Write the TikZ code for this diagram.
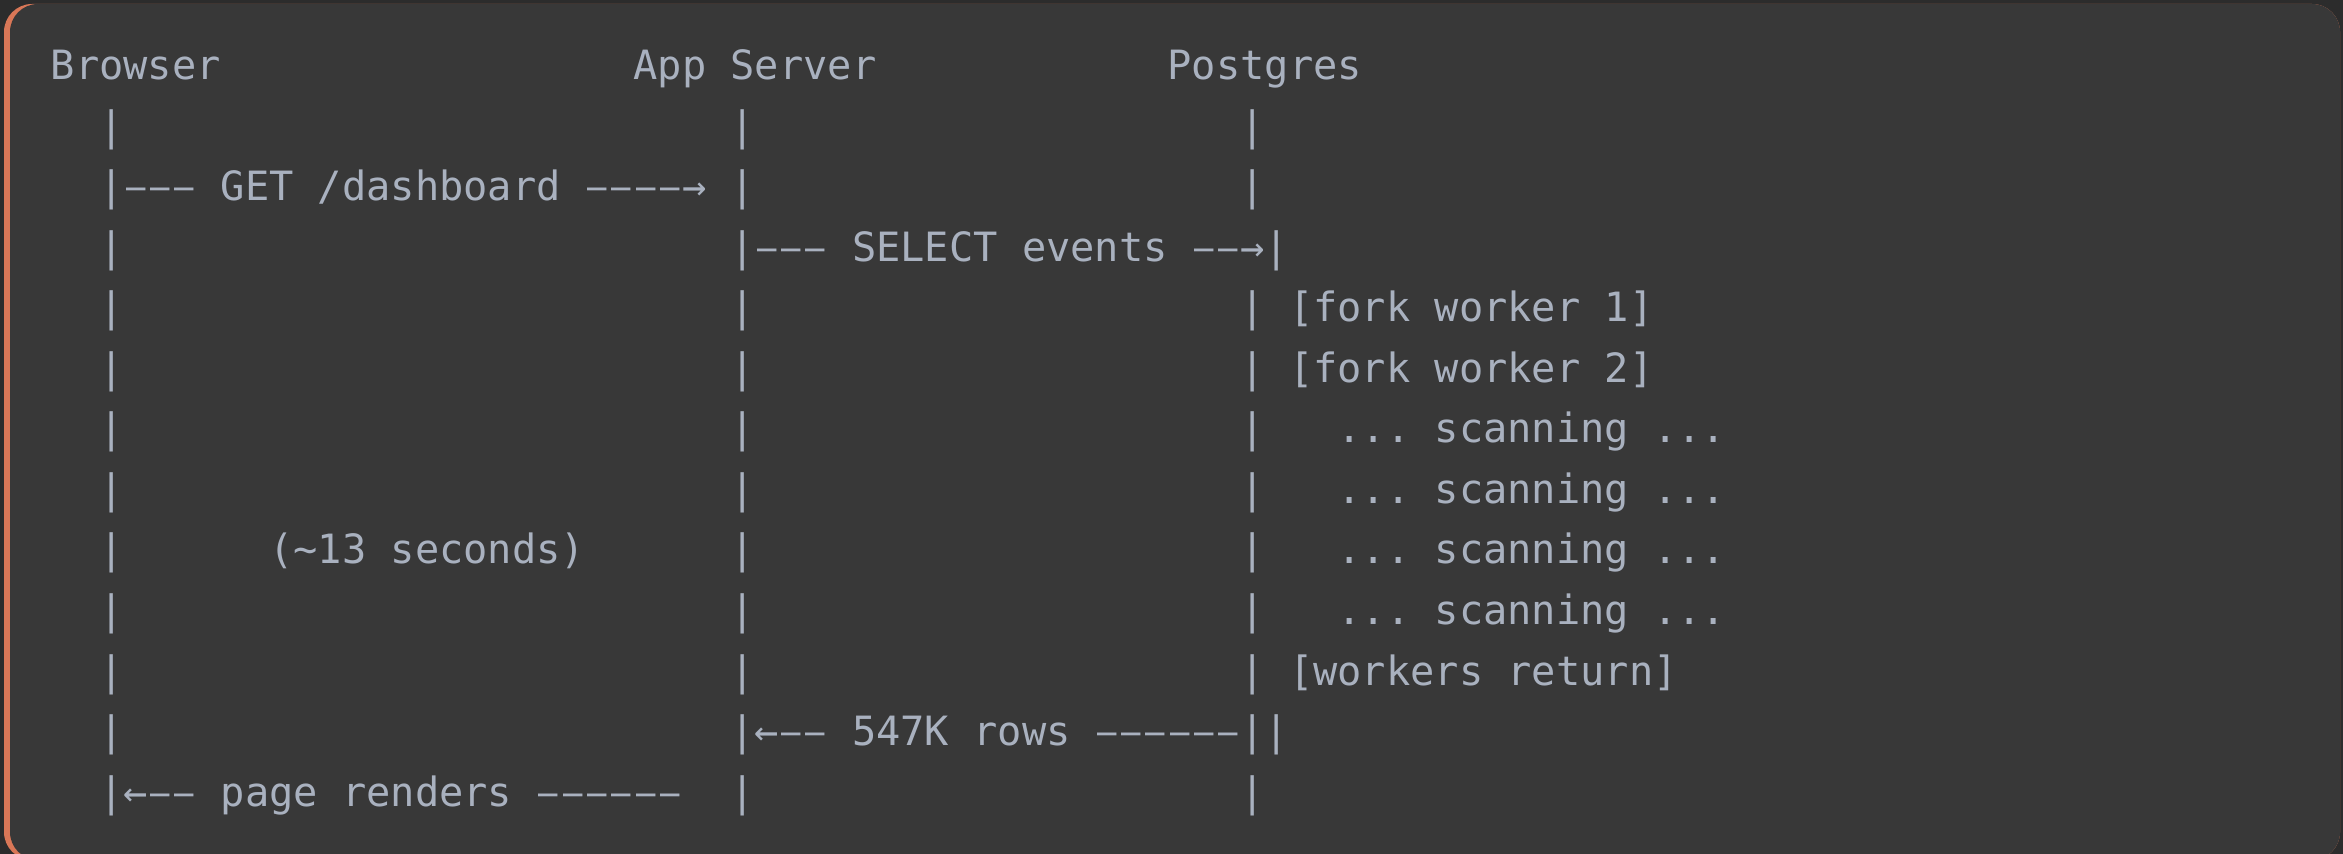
\documentclass[tikz,border=0pt]{standalone}
\usepackage{fontspec}
\usepackage{graphicx}
\setmonofont{DejaVu Sans Mono}
\definecolor{outerbg}{HTML}{2C2C2C}
\definecolor{cardbg}{HTML}{383838}
\definecolor{accent}{HTML}{D97757}
\definecolor{ink}{HTML}{A9B1BF}
\newcommand\dsh{\makebox[0.602em][c]{\scalebox{0.8}[1]{–}}}
\tikzset{
  ascii/.style={anchor=base west, inner sep=0pt, outer sep=0pt, text=ink,
    font=\ttfamily\fontsize{20.17pt}{30pt}\selectfont},
}
\begin{document}
\begin{tikzpicture}[x=0.5pt,y=-0.5pt]
\fill[outerbg] (0,0) rectangle (2343,854);
\useasboundingbox (0,0) rectangle (2343,854);
\fill[accent, rounded corners=14] (4,4) rectangle (2340,860);
\fill[cardbg, rounded corners=14] (10,4) rectangle (2340,860);
% column x = 50.8 + c*24.28 ; row y = 80 + r*60.5
% row 0: headers
\node[ascii] (hb) at ({50.8+24.28*0},{80+60.5*0}) {Browser};
\node[ascii] (ha) at ({50.8+24.28*24},{80+60.5*0}) {App Server};
\node[ascii] (hp) at ({50.8+24.28*46},{80+60.5*0}) {Postgres};
% Browser lifeline pipes (col 2)
\foreach \r in {1,3,4,5,6,7,8,9,10,11}
  \node[ascii] (b\r) at ({50.8+24.28*2},{80+60.5*\r}) {|};
% App server lifeline pipes (col 28)
\foreach \r in {1,2,4,5,6,7,8,9,10,12}
  \node[ascii] (a\r) at ({50.8+24.28*28},{80+60.5*\r}) {|};
% Postgres lifeline pipes (col 49)
\foreach \r in {1,2,6,7,8,9,12}
  \node[ascii] (p\r) at ({50.8+24.28*49},{80+60.5*\r}) {|};
% messages
\node[ascii] (get) at ({50.8+24.28*2},{80+60.5*2}) {|\dsh\dsh\dsh{} GET /dashboard \dsh\dsh\dsh\dsh→};
\node[ascii] (sel) at ({50.8+24.28*28},{80+60.5*3}) {|\dsh\dsh\dsh{} SELECT events \dsh\dsh→|};
\node[ascii] (fw1) at ({50.8+24.28*49},{80+60.5*4}) {| [fork worker 1]};
\node[ascii] (fw2) at ({50.8+24.28*49},{80+60.5*5}) {| [fork worker 2]};
\node[ascii] (sc1) at ({50.8+24.28*53},{80+60.5*6}) {... scanning ...};
\node[ascii] (sc2) at ({50.8+24.28*53},{80+60.5*7}) {... scanning ...};
\node[ascii] (sc3) at ({50.8+24.28*53},{80+60.5*8}) {... scanning ...};
\node[ascii] (sc4) at ({50.8+24.28*53},{80+60.5*9}) {... scanning ...};
\node[ascii] (secs) at ({50.8+24.28*9},{80+60.5*8}) {(\textasciitilde 13 seconds)};
\node[ascii] (wr) at ({50.8+24.28*49},{80+60.5*10}) {| [workers return]};
\node[ascii] (rows) at ({50.8+24.28*28},{80+60.5*11}) {|←\dsh\dsh{} 547K rows \dsh\dsh\dsh\dsh\dsh\dsh||};
\node[ascii] (page) at ({50.8+24.28*2},{80+60.5*12}) {|←\dsh\dsh{} page renders \dsh\dsh\dsh\dsh\dsh\dsh};
\end{tikzpicture}
\end{document}
